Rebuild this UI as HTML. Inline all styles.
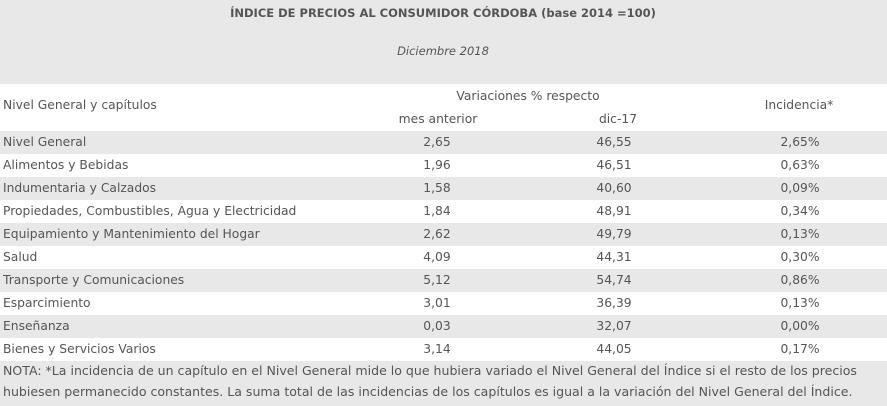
<!DOCTYPE html>
<html><head><meta charset="utf-8"><style>
body{margin:0;width:887px;height:406px;background:#fff;font-family:"DejaVu Sans","Liberation Sans",sans-serif;font-size:12.3px;color:#555;position:relative;overflow:hidden}
.a{position:absolute;white-space:nowrap}
.c{position:absolute;white-space:nowrap;transform:translateX(-50%)}
.g{position:absolute;left:0;width:887px;background:#e8e8e8}
</style></head><body>
<div class="g" style="top:0;height:84px"></div>
<div class="c" style="left:443px;top:6px;font-weight:bold;font-size:11.5px">ÍNDICE DE PRECIOS AL CONSUMIDOR CÓRDOBA (base 2014 =100)</div>
<div class="c" style="left:443px;top:44px;font-style:italic;font-size:11.5px">Diciembre 2018</div>
<div class="a" style="left:3px;top:98px">Nivel General y capítulos</div>
<div class="c" style="left:528px;top:89px">Variaciones % respecto</div>
<div class="c" style="left:799px;top:98px">Incidencia*</div>
<div class="c" style="left:438px;top:112px">mes anterior</div>
<div class="c" style="left:618px;top:112px">dic-17</div>
<div id="rows"></div>
<div class="g" style="top:361px;height:45px"></div>
<div class="a" style="left:3px;top:363px;font-size:12.55px">NOTA: *La incidencia de un capítulo en el Nivel General mide lo que hubiera variado el Nivel General del Índice si el resto de los precios</div>
<div class="a" style="left:3px;top:384px;font-size:12.55px">hubiesen permanecido constantes. La suma total de las incidencias de los capítulos es igual a la variación del Nivel General del Índice.</div>
<script>
var d=[["Nivel General","2,65","46,55","2,65%"],["Alimentos y Bebidas","1,96","46,51","0,63%"],["Indumentaria y Calzados","1,58","40,60","0,09%"],["Propiedades, Combustibles, Agua y Electricidad","1,84","48,91","0,34%"],["Equipamiento y Mantenimiento del Hogar","2,62","49,79","0,13%"],["Salud","4,09","44,31","0,30%"],["Transporte y Comunicaciones","5,12","54,74","0,86%"],["Esparcimiento","3,01","36,39","0,13%"],["Enseñanza","0,03","32,07","0,00%"],["Bienes y Servicios Varios","3,14","44,05","0,17%"]];
var h="";d.forEach(function(r,i){var t=131+i*23;
if(i%2==0)h+='<div class="g" style="top:'+t+'px;height:23px"></div>';
h+='<div class="a" style="left:3px;top:'+(t+4)+'px">'+r[0]+'</div><div class="c" style="left:437px;top:'+(t+4)+'px">'+r[1]+'</div><div class="c" style="left:614px;top:'+(t+4)+'px">'+r[2]+'</div><div class="c" style="left:800px;top:'+(t+4)+'px">'+r[3]+'</div>';});
document.getElementById("rows").innerHTML=h;
</script>
</body></html>
